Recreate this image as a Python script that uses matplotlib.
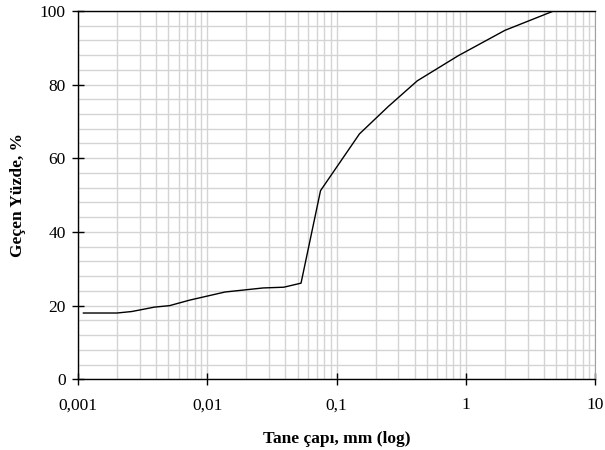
import matplotlib
matplotlib.use("Agg")
import matplotlib.pyplot as plt
from matplotlib.ticker import FixedLocator, FuncFormatter, LogLocator, MultipleLocator

# grain size distribution
diam_mm = [0.0011, 0.002, 0.0026, 0.0039, 0.0051, 0.0073, 0.0137, 0.027, 0.039,
           0.053, 0.075, 0.15, 0.25, 0.42, 0.87, 2.0, 4.8]
passing = [18.0, 18.0, 18.4, 19.6, 20.0, 21.5, 23.7, 24.8, 25.0,
           26.1, 51.2, 66.6, 74.0, 81.0, 87.8, 94.7, 100.0]

x_ticks = [0.001, 0.01, 0.1, 1, 10]
x_labels = ["0,001", "0,01", "0,1", "1", "10"]

plt.rcParams['font.family'] = ['Liberation Serif', 'DejaVu Serif']

fig = plt.figure(figsize=(6.05, 4.5), dpi=100)
ax = fig.add_axes([0.129, 0.157, 0.855, 0.819])

ax.set_xscale('log')
ax.set_xlim(0.001, 10)
ax.set_ylim(0, 100)

ax.xaxis.set_major_locator(FixedLocator(x_ticks))
ax.xaxis.set_major_formatter(FuncFormatter(lambda v, p: x_labels[x_ticks.index(v)] if v in x_ticks else ""))
ax.xaxis.set_minor_locator(LogLocator(base=10, subs=range(2, 10)))
ax.xaxis.set_minor_formatter(FuncFormatter(lambda v, p: ""))
ax.yaxis.set_major_locator(MultipleLocator(20))
ax.yaxis.set_minor_locator(MultipleLocator(4))

ax.grid(which='both', color='#d4d4d4', linewidth=1.0)
ax.set_axisbelow(True)

ax.plot(diam_mm, passing, color='black', linewidth=1.0)

ax.tick_params(which='major', direction='inout', length=8, width=1, labelsize=12.5)
ax.tick_params(axis='x', pad=9)
ax.tick_params(axis='y', pad=5)
ax.tick_params(which='minor', length=0)
for s in ['left', 'bottom', 'top']:
    ax.spines[s].set_linewidth(1.0)
ax.spines['right'].set_color('#a0a0a0')

ax.set_xlabel("Tane çapı, mm (log)", fontsize=12.5, fontweight='bold', labelpad=13)
ax.set_ylabel("Geçen Yüzde, %", fontsize=12.5, fontweight='bold', labelpad=10)

fig.savefig("out.png", dpi=100)
